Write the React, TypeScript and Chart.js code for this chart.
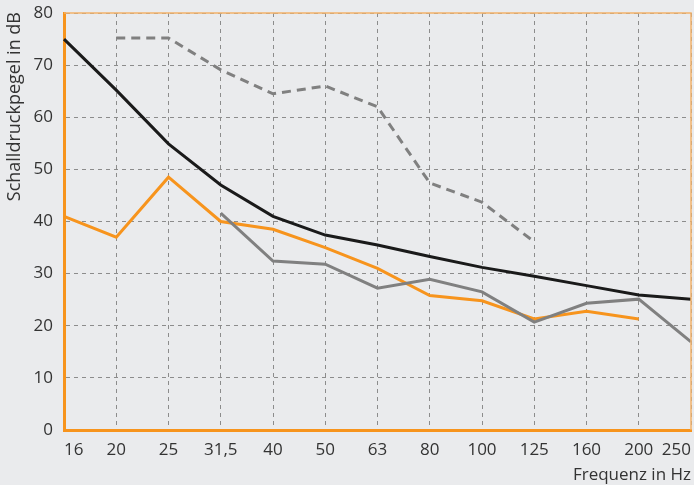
import React, { useEffect, useRef } from "react";
import { Chart, registerables } from "chart.js";

Chart.register(...registerables);

const categories = ["16", "20", "25", "31,5", "40", "50", "63", "80", "100", "125", "160", "200", "250"];
const blackSeries = [75, 65.2, 54.9, 47, 41, 37.4, 35.5, 33.3, 31.2, 29.5, 27.7, 25.9, 25.1];
const orangeSeries = [41, 37, 48.5, 40, 38.5, 35, 31, 25.8, 24.8, 21.3, 22.8, 21.3, null];
const graySeries = [null, null, null, 41.6, 32.4, 31.8, 27.2, 28.9, 26.5, 20.7, 24.3, 25.1, 16.9];
const grayDashedSeries = [null, 75.2, 75.2, 69.1, 64.5, 66, 62, 47.4, 43.7, 36.1, null, null, null];
const yTicks = [0, 10, 20, 30, 40, 50, 60, 70, 80];
const yTitle = "Schalldruckpegel in dB";
const xTitle = "Frequenz in Hz";

const BG = "#eaebed";
const ORANGE = "#f7941d";
const TEXT = "#333333";
const FONT = "'Open Sans', 'DejaVu Sans', sans-serif";

export default function App() {
  const ref = useRef<HTMLCanvasElement | null>(null);

  useEffect(() => {
    document.body.style.margin = "0";
    document.body.style.background = BG;
    const frame = {
      id: "frame",
      afterDatasetsDraw(chart: any) {
        const { ctx, chartArea } = chart;
        ctx.save();
        ctx.strokeStyle = "#f3b36a";
        ctx.lineWidth = 1.5;
        ctx.beginPath();
        ctx.moveTo(chartArea.left, chartArea.top);
        ctx.lineTo(chartArea.right, chartArea.top);
        ctx.lineTo(chartArea.right, chartArea.bottom);
        ctx.stroke();
        ctx.restore();
      },
      afterDraw(chart: any) {
        const { ctx } = chart;
        ctx.save();
        ctx.translate(15, 12);
        ctx.rotate(-Math.PI / 2);
        ctx.font = `18px ${FONT}`;
        ctx.fillStyle = TEXT;
        ctx.textAlign = "right";
        ctx.textBaseline = "middle";
        ctx.fillText(yTitle, 0, 0);
        ctx.restore();
      },
    };
    const chart = new Chart(ref.current!, {
      type: "line",
      data: {
        labels: categories,
        datasets: [
          { data: grayDashedSeries, borderColor: "#808080", borderWidth: 3, borderDash: [9, 6], pointRadius: 0, spanGaps: false },
          { data: graySeries, borderColor: "#808080", borderWidth: 3, pointRadius: 0 },
          { data: orangeSeries, borderColor: ORANGE, borderWidth: 3, pointRadius: 0 },
          { data: blackSeries, borderColor: "#1a1a1a", borderWidth: 3, pointRadius: 0 },
        ],
      },
      options: {
        animation: false,
        responsive: false,
        maintainAspectRatio: false,
        layout: { padding: { top: 13, right: 3, left: 0, bottom: 0 } },
        plugins: { legend: { display: false }, tooltip: { enabled: false } },
        scales: {
          x: {
            offset: false,
            grid: { color: "#8c8c8c", lineWidth: 1, drawTicks: false },
            border: { color: ORANGE, width: 3, dash: [4, 4] },
            ticks: { color: TEXT, font: { family: FONT, size: 17 }, padding: 10, maxRotation: 0, autoSkip: false, align: "inner" },
            title: { display: true, text: xTitle, align: "end", color: TEXT, font: { family: FONT, size: 17 }, padding: { top: 3, bottom: 0 } },
            afterFit: (s: any) => { s.height = 55; s.paddingLeft = 0; s.paddingRight = 0; },
          },
          y: {
            min: 0,
            max: 80,
            afterBuildTicks: (s: any) => { s.ticks = yTicks.map((v) => ({ value: v })); },
            grid: { color: "#8c8c8c", lineWidth: 1, drawTicks: false },
            border: { color: ORANGE, width: 3, dash: [4, 4] },
            ticks: { color: TEXT, font: { family: FONT, size: 17 }, padding: 11 },
            title: { display: false },
            afterFit: (s: any) => { s.width = 64; s.paddingTop = 0; s.paddingBottom = 0; },
          },
        },
      },
      plugins: [frame],
    } as any);
    return () => chart.destroy();
  }, []);

  return (
    <div style={{ width: 694, height: 485, background: BG }}>
      <canvas ref={ref} width={694} height={485} style={{ display: "block" }} />
    </div>
  );
}
